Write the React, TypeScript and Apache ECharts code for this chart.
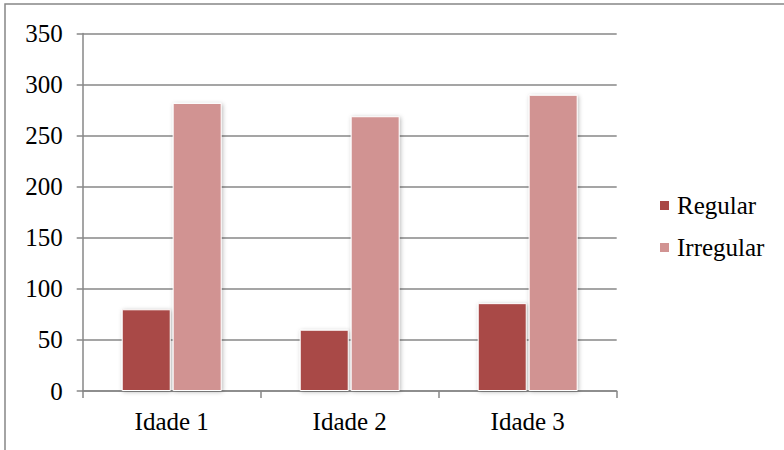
import React, { useEffect, useRef } from "react";
import * as echarts from "echarts";

// Categories and values
const categories = ["Idade 1", "Idade 2", "Idade 3"];
const regular = [80, 60, 86];
const irregular = [282, 269, 290];
const seriesNames = ["Regular", "Irregular"];

const yMin = 0;
const yMax = 350;
const yStep = 50;

const FONT = "'Liberation Serif', 'Times New Roman', serif";
const FONT_SIZE = 25;
const GRID_COLOR = "#878787";

export default function App() {
  const ref = useRef<HTMLDivElement>(null);

  useEffect(() => {
    document.body.style.margin = "0";
    if (!ref.current) return;
    const chart = echarts.init(ref.current, undefined, { renderer: "svg" });

    const barStyle = (color: string) => ({
      color,
      borderColor: "#ffffff",
      borderWidth: 1,
      shadowBlur: 4,
      shadowColor: "rgba(0,0,0,0.28)",
      shadowOffsetX: 1,
      shadowOffsetY: 1,
    });

    chart.setOption({
      animation: false,
      backgroundColor: "#ffffff",
      textStyle: { fontFamily: FONT },
      graphic: [
        {
          type: "rect",
          shape: { x: 5, y: 4, width: 820, height: 500 },
          style: { fill: "none", stroke: GRID_COLOR, lineWidth: 1.5 },
          silent: true,
        },
      ],
      grid: { left: 82.7, right: 167.3, top: 33.5, bottom: 59 },
      legend: {
        orient: "vertical",
        left: 653,
        top: 188,
        icon: "rect",
        itemWidth: 11,
        itemHeight: 11,
        itemGap: 17,
        data: seriesNames,
        textStyle: { fontFamily: FONT, fontSize: FONT_SIZE, color: "#000", padding: [0, 0, 0, 2] },
      },
      xAxis: {
        type: "category",
        data: categories,
        axisLine: { lineStyle: { color: GRID_COLOR, width: 1.5 } },
        axisTick: { show: true, length: 7, lineStyle: { color: GRID_COLOR, width: 1.5 } },
        axisLabel: { fontFamily: FONT, fontSize: FONT_SIZE, color: "#000", margin: 18 },
      },
      yAxis: {
        type: "value",
        min: yMin,
        max: yMax,
        interval: yStep,
        axisLine: { show: true, lineStyle: { color: GRID_COLOR, width: 1.5 } },
        axisTick: { show: true, length: 6, lineStyle: { color: GRID_COLOR, width: 1.5 } },
        axisLabel: { fontFamily: FONT, fontSize: FONT_SIZE, color: "#000", margin: 20 },
        splitLine: { show: true, lineStyle: { color: GRID_COLOR, width: 1.5 } },
      },
      series: [
        {
          name: seriesNames[0],
          type: "bar",
          data: regular,
          barWidth: 49,
          barGap: "4%",
          itemStyle: barStyle("#A94846"),
        },
        {
          name: seriesNames[1],
          type: "bar",
          data: irregular,
          barWidth: 49,
          barGap: "4%",
          itemStyle: barStyle("#D19392"),
        },
      ],
    });

    return () => chart.dispose();
  }, []);

  return <div ref={ref} style={{ width: 784, height: 450 }} />;
}
